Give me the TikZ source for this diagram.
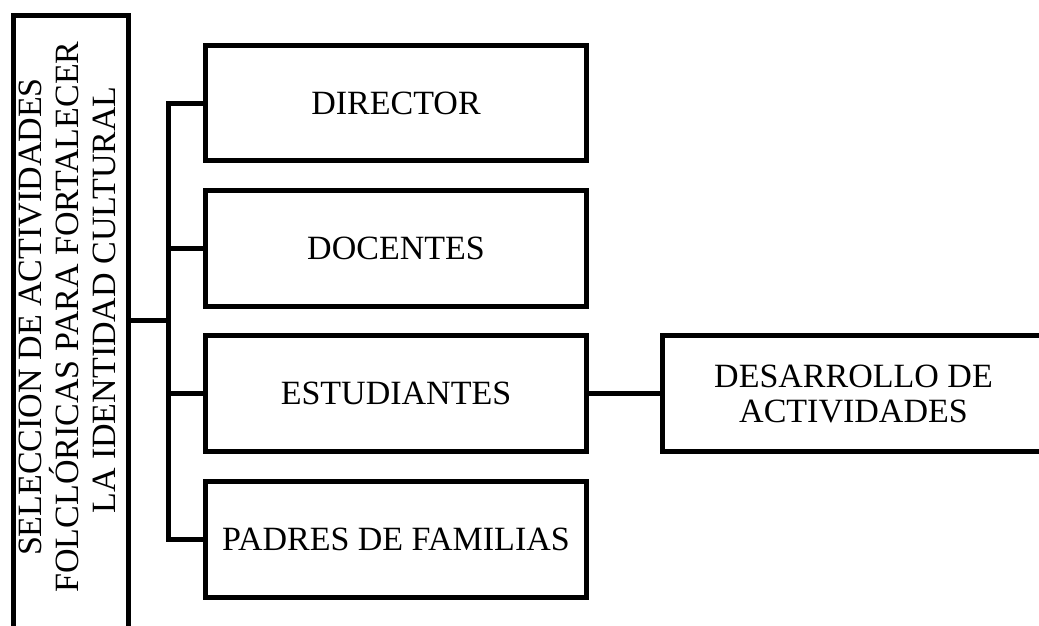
\documentclass[tikz,border=0pt]{standalone}
\usepackage{fontspec}
\setmainfont{Liberation Serif}
\begin{document}
\begin{tikzpicture}[x=1pt,y=-1pt,
  box/.style={draw=black, line width=5pt, fill=white, inner sep=0pt,
    minimum width=381pt, minimum height=115.5pt, align=center,
    font=\fontsize{34}{36}\selectfont},
  conn/.style={draw=black, line width=5pt}]
\useasboundingbox (0,0) rectangle (1039,625);
\clip (0,0) rectangle (1039,625);
% left tall box
\node[draw=black, line width=5pt, inner sep=0pt, minimum width=114.5pt, minimum height=630pt] (lbox) at (70.75,330.5) {};
\node[rotate=90, align=center, inner sep=0pt, font=\fontsize{34}{37}\selectfont] (ltext) at (67,317)
  {SELECCION DE ACTIVIDADES\\FOLCLÓRICAS PARA FORTALECER\\\hspace*{34pt}LA IDENTIDAD CULTURAL};
% right-hand boxes
\node[box] (dir) at (396,103) {DIRECTOR};
\node[box] (doc) at (396,248.5) {DOCENTES};
\node[box] (est) at (396,393.5) {ESTUDIANTES};
\node[box] (pad) at (396,539.5) {PADRES DE FAMILIAS};
\node[box, minimum width=382pt] (des) at (853.5,393.5) {DESARROLLO DE\\[-1pt]ACTIVIDADES};
% connectors
\coordinate (bus) at (168.5,320.5);
\draw[conn] (lbox.east |- bus) -- (bus);
\draw[conn] (dir.west) -- (dir.west -| bus) -- (pad.west -| bus) -- (pad.west);
\draw[conn] (doc.west -| bus) -- (doc.west);
\draw[conn] (est.west -| bus) -- (est.west);
\draw[conn] (est.east) -- (des.west);
\end{tikzpicture}
\end{document}
